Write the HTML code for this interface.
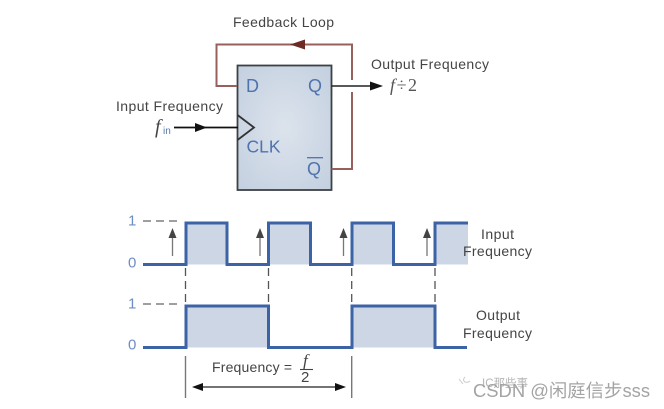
<!DOCTYPE html>
<html>
<head>
<meta charset="utf-8">
<style>
html,body{margin:0;padding:0;background:#fff;}
svg{display:block;filter:blur(0.35px);}
text{font-family:"Liberation Sans","Noto Sans CJK SC",sans-serif;}
</style>
</head>
<body>
<svg width="664" height="409" viewBox="0 0 664 409" xmlns="http://www.w3.org/2000/svg">
<defs>
<radialGradient id="g" cx="50%" cy="50%" r="65%">
<stop offset="0" stop-color="#dce3ec"/>
<stop offset="1" stop-color="#c5d1e1"/>
</radialGradient>
</defs>
<rect x="237.5" y="65.5" width="94" height="124.5" fill="url(#g)" stroke="#3c4144" stroke-width="1.8"/>
<path d="M237 86H216.5V44.5H352V80M352 92V169H331.5" fill="none" stroke="#97605c" stroke-width="2"/>
<polygon points="290,44.5 305,39.5 305,49.5" fill="#6e2b25"/>
<path d="M331.5 86H372" stroke="#222" stroke-width="1.6"/>
<polygon points="383,86 370,81.5 370,90.5" fill="#111"/>
<path d="M174 127.5H238" stroke="#111" stroke-width="1.8"/>
<polygon points="207,127.5 195,123 195,132" fill="#111"/>
<path d="M237.5 115L254 127.5L237.5 140" fill="none" stroke="#333" stroke-width="1.8"/>

<text x="233" y="27" font-size="14" textLength="101" fill="#444">Feedback Loop</text>
<text x="371" y="69" font-size="14" textLength="118" fill="#444">Output Frequency</text>
<text x="116" y="111" font-size="14" textLength="107" fill="#444">Input Frequency</text>
<text x="155" y="133" font-size="20" font-style="italic" fill="#444" style="font-family:'Liberation Serif',serif">f</text>
<text x="163" y="134" font-size="10" fill="#5577aa">in</text>
<text x="390" y="91" font-size="18" textLength="27" fill="#555" style="font-family:'Liberation Serif',serif"><tspan font-style="italic">f</tspan>÷2</text>
<text x="246" y="92" font-size="18" fill="#4f73ae">D</text>
<text x="308" y="92" font-size="18" fill="#4f73ae">Q</text>
<text x="246.5" y="152.5" font-size="17.5" fill="#4f73ae">CLK</text>
<text x="307" y="175" font-size="18" fill="#4f73ae">Q</text>
<path d="M307 157.7H323" stroke="#4f73ae" stroke-width="1.3"/>

<path d="M186 264.5V223H227V264.5ZM268.5 264.5V223H310.5V264.5ZM352 264.5V223H393.5V264.5ZM435 264.5V223H468V264.5Z" fill="#ccd6e4"/>
<path d="M186 347.5V306H268.5V347.5ZM352 347.5V306H435V347.5Z" fill="#ccd6e4"/>
<path d="M143 264.5H186V223H227V264.5H268.5V223H310.5V264.5H352V223H393.5V264.5H435V223H468" fill="none" stroke="#3c63a6" stroke-width="3"/>
<path d="M143 347.5H186V306H268.5V347.5H352V306H435V347.5H467" fill="none" stroke="#3c63a6" stroke-width="3"/>

<path d="M143 221H180M143 304H180" stroke="#666" stroke-width="1.3" stroke-dasharray="8 5"/>
<path d="M185.5 268V303M268.5 268V303M351.7 268V303M435 268V303" stroke="#555" stroke-width="1.3" stroke-dasharray="8 5"/>
<g stroke="#777" stroke-width="1.3">
<path d="M172.5 256V236M260 256V236M343.5 256V236M427 256V236"/>
</g>
<g fill="#444">
<polygon points="172.5,228 168.5,238 176.5,238"/>
<polygon points="260,228 256,238 264,238"/>
<polygon points="343.5,228 339.5,238 347.5,238"/>
<polygon points="427,228 423,238 431,238"/>
</g>
<path d="M185.5 356V398M351.7 356V398" stroke="#777" stroke-width="1.4"/>
<path d="M198 387H340" stroke="#222" stroke-width="1.3"/>
<polygon points="192,387 203,383 203,391" fill="#111"/>
<polygon points="346,387 335,383 335,391" fill="#111"/>

<g font-size="15" fill="#6b8fc4">
<text x="128" y="225.5">1</text>
<text x="128" y="267.5">0</text>
<text x="128" y="308.5">1</text>
<text x="128" y="349.5">0</text>
</g>
<g font-size="14" fill="#444">
<text x="481" y="239" textLength="33">Input</text>
<text x="463" y="256" textLength="69">Frequency</text>
<text x="476" y="320" textLength="44">Output</text>
<text x="463" y="338" textLength="69">Frequency</text>
</g>
<text x="212" y="372" font-size="14" textLength="80" fill="#444">Frequency =</text>
<text x="303" y="366" font-size="17" font-style="italic" fill="#444" style="font-family:'Liberation Serif',serif">f</text>
<path d="M300 369.5H313" stroke="#444" stroke-width="1.1"/>
<text x="301" y="382" font-size="15" fill="#444">2</text>

<path d="M459 379l4 5M465 377q-3 3 0 5q3 1 5 -1" fill="none" stroke="#ccc" stroke-width="1"/>
<text x="482" y="387" font-size="11.5" fill="#b5b5b5">IC那些事</text>
<text x="473" y="397" font-size="18.4" fill="#a4a4a4">CSDN @闲庭信步sss</text>
</svg>
</body>
</html>
